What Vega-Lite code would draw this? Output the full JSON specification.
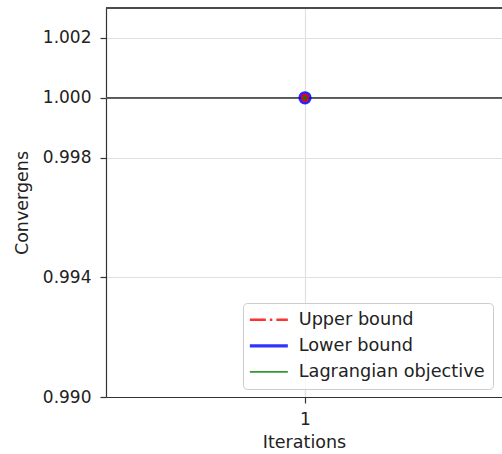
{
  "$schema": "https://vega.github.io/schema/vega-lite/v6.json",
  "width": 396,
  "height": 389,
  "autosize": {"type": "none"},
  "padding": {"left": 106, "top": 8, "right": 0, "bottom": 57},
  "config": {
    "view": {"stroke": null},
    "font": "DejaVu Sans",
    "axis": {
      "labelFont": "DejaVu Sans",
      "titleFont": "DejaVu Sans",
      "labelFontSize": 17,
      "titleFontSize": 17.5,
      "titleFontWeight": "normal",
      "labelColor": "#222222",
      "titleColor": "#222222",
      "domainColor": "#333333",
      "domainWidth": 1.2,
      "tickColor": "#333333",
      "tickWidth": 1.2,
      "tickSize": 6,
      "gridColor": "#e0e0e0",
      "gridWidth": 1.2
    },
    "legend": {
      "orient": "none",
      "legendX": 137,
      "legendY": 295,
      "padding": 8,
      "fillColor": "rgba(255,255,255,0.8)",
      "strokeColor": "#cccccc",
      "cornerRadius": 4,
      "labelFont": "DejaVu Sans",
      "labelFontSize": 17.7,
      "labelColor": "#222222",
      "labelOffset": 30,
      "labelLimit": 400,
      "symbolType": "M-2,0H5.6",
      "symbolSize": 100,
      "symbolOpacity": 0.8,
      "rowPadding": 7
    }
  },
  "data": {
    "values": [
      {"iteration": 1, "series": "Lower bound", "value": 1.0},
      {"iteration": 1, "series": "Upper bound", "value": 1.0},
      {"iteration": 1, "series": "Lagrangian objective", "value": 1.0}
    ]
  },
  "layer": [
    {
      "mark": {"type": "rule", "color": "#555555", "strokeWidth": 1.7},
      "encoding": {"y": {"datum": 1.0, "type": "quantitative"}}
    },
    {
      "mark": {"type": "rule", "color": "#333333", "strokeWidth": 1.2},
      "encoding": {"y": {"datum": 1.003, "type": "quantitative"}}
    },
    {
      "mark": {"type": "line", "opacity": 0.8},
      "encoding": {
        "x": {
          "field": "iteration",
          "type": "quantitative",
          "scale": {"domain": [0.95, 1.0495], "nice": false, "zero": false},
          "axis": {"values": [1], "format": "d", "title": "Iterations", "labelPadding": 8, "titlePadding": 6, "grid": true}
        },
        "y": {
          "field": "value",
          "type": "quantitative",
          "scale": {"domain": [0.99, 1.003], "nice": false, "zero": false},
          "axis": {"values": [0.99, 0.994, 0.998, 1.0, 1.002], "format": ".3f", "title": "Convergens", "labelPadding": 9, "titlePadding": 11, "grid": true}
        },
        "color": {
          "field": "series",
          "type": "nominal",
          "scale": {"domain": ["Upper bound", "Lower bound", "Lagrangian objective"], "range": ["#ff0000", "#0000ff", "#008000"]},
          "legend": {"title": null, "labelLimit": 400, "symbolType": "M-2,0H5.6", "symbolSize": 100}
        },
        "strokeDash": {
          "field": "series",
          "type": "nominal",
          "scale": {"domain": ["Upper bound", "Lower bound", "Lagrangian objective"], "range": [[16, 4, 2.5, 4], [1, 0], [1, 0]]},
          "legend": {"title": null, "labelLimit": 400, "symbolType": "M-2,0H5.6", "symbolSize": 100}
        },
        "strokeWidth": {
          "field": "series",
          "type": "nominal",
          "scale": {"type": "ordinal", "domain": ["Upper bound", "Lower bound", "Lagrangian objective"], "range": [2.5, 3.4, 1.7]},
          "legend": {"title": null, "labelLimit": 400, "symbolType": "M-2,0H5.6", "symbolSize": 100}
        }
      }
    },
    {
      "transform": [{"filter": "datum.series === 'Lower bound'"}],
      "mark": {"type": "point", "filled": true, "opacity": 0.85, "color": "#0000ff", "size": 175},
      "encoding": {
        "x": {"field": "iteration", "type": "quantitative"},
        "y": {"field": "value", "type": "quantitative"}
      }
    },
    {
      "transform": [{"filter": "datum.series === 'Upper bound'"}],
      "mark": {"type": "point", "filled": true, "opacity": 0.85, "color": "#ff0000", "size": 70},
      "encoding": {
        "x": {"field": "iteration", "type": "quantitative"},
        "y": {"field": "value", "type": "quantitative"}
      }
    },
    {
      "transform": [{"filter": "datum.series === 'Lagrangian objective'"}],
      "mark": {"type": "point", "filled": true, "opacity": 0.85, "color": "#008000", "size": 18},
      "encoding": {
        "x": {"field": "iteration", "type": "quantitative"},
        "y": {"field": "value", "type": "quantitative"}
      }
    }
  ]
}
